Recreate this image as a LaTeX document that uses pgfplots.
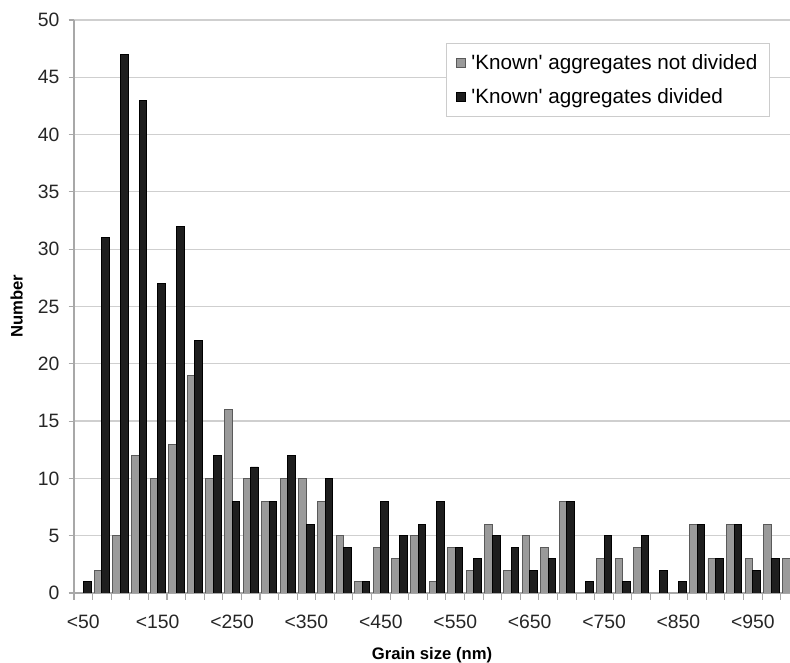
\documentclass[border=0pt]{standalone}
\usepackage{pgfplots}
\pgfplotsset{compat=1.18}
\usepackage{fontspec}
\setmainfont{Liberation Sans}
\definecolor{bargrey}{HTML}{9A9A9A}
\definecolor{bargreyedge}{HTML}{5A5A5A}
\definecolor{barblack}{HTML}{1E1E1E}
\definecolor{gridc}{HTML}{CFCFCF}
\definecolor{axisc}{HTML}{A8A8A8}
\pgfplotstableread{
x grey
1 2
2 5
3 12
4 10
5 13
6 19
7 10
8 16
9 10
10 8
11 10
12 10
13 8
14 5
15 1
16 4
17 3
18 5
19 1
20 4
21 2
22 6
23 2
24 5
25 4
26 8
28 3
29 3
30 4
33 6
34 3
35 6
36 3
37 6
38 3
}\greytab
\pgfplotstableread{
x black
0 1
1 31
2 47
3 43
4 27
5 32
6 22
7 12
8 8
9 11
10 8
11 12
12 6
13 10
14 4
15 1
16 8
17 5
18 6
19 8
20 4
21 3
22 5
23 4
24 2
25 3
26 8
27 1
28 5
29 1
30 5
31 2
32 1
33 6
34 3
35 6
36 2
37 3
38 4
}\blacktab
\begin{document}
\begin{tikzpicture}
\begin{axis}[
  at={(0,0)}, anchor=south west,
  scale only axis,
  width=537pt, height=429.75pt,
  xmin=-0.5, xmax=38,
  ymin=0, ymax=50,
  ytick={0,5,...,50},
  xtick={0,4,...,36},
  xticklabels={<50,<150,<250,<350,<450,<550,<650,<750,<850,<950},
  minor xtick={-0.5,0.5,...,37.5},
  major x tick style={draw=none},
  minor tick length=5pt,
  major tick length=4pt,
  tick align=outside,
  tick style={axisc, line width=0.8pt},
  axis x line*=bottom,
  axis y line*=left,
  axis line style={axisc, line width=0.9pt, -},
  ymajorgrids,
  major grid style={gridc, line width=0.9pt},
  /pgf/number format/assume math mode=true,
  tick label style={font=\fontsize{14.5}{17}\selectfont, text=black!85},
  xticklabel style={yshift=-9pt},
  yticklabel style={xshift=-3.5pt},
  xlabel={\textbf{Grain size (nm)}},
  ylabel={\textbf{Number}},
  label style={font=\fontsize{12.5}{15}\selectfont},
  xlabel style={at={(axis description cs:0.5,-0.109)}, anchor=center},
  ylabel style={at={(axis description cs:-0.080,0.5)}, anchor=center},
  ybar=0pt,
  bar width=0.41,
  legend style={at={(0.972,0.96)}, anchor=north east, draw=gray!40, line width=0.8pt,
    font=\fontsize{15.5}{18}\selectfont, inner xsep=7pt, inner ysep=6pt,
    row sep=9pt, cells={anchor=west}},
  legend image code/.code={\draw[#1, line width=0.6pt] (0pt,-3.3pt) rectangle (6.6pt,3.3pt); \path (9pt,0pt);},
]
\addplot[fill=bargrey, draw=bargreyedge, line width=0.6pt, bar shift=-0.205] table[x=x,y=grey] {\greytab};
\addplot[fill=barblack, draw=black, line width=0.6pt, bar shift=0.205] table[x=x,y=black] {\blacktab};
\legend{\textquotesingle Known\textquotesingle{} aggregates not divided,\textquotesingle Known\textquotesingle{} aggregates divided}
\end{axis}
\pgfresetboundingbox
\path[use as bounding box] (-55.5pt,-52.5pt) rectangle (537pt,444.75pt);
\end{tikzpicture}
\end{document}
